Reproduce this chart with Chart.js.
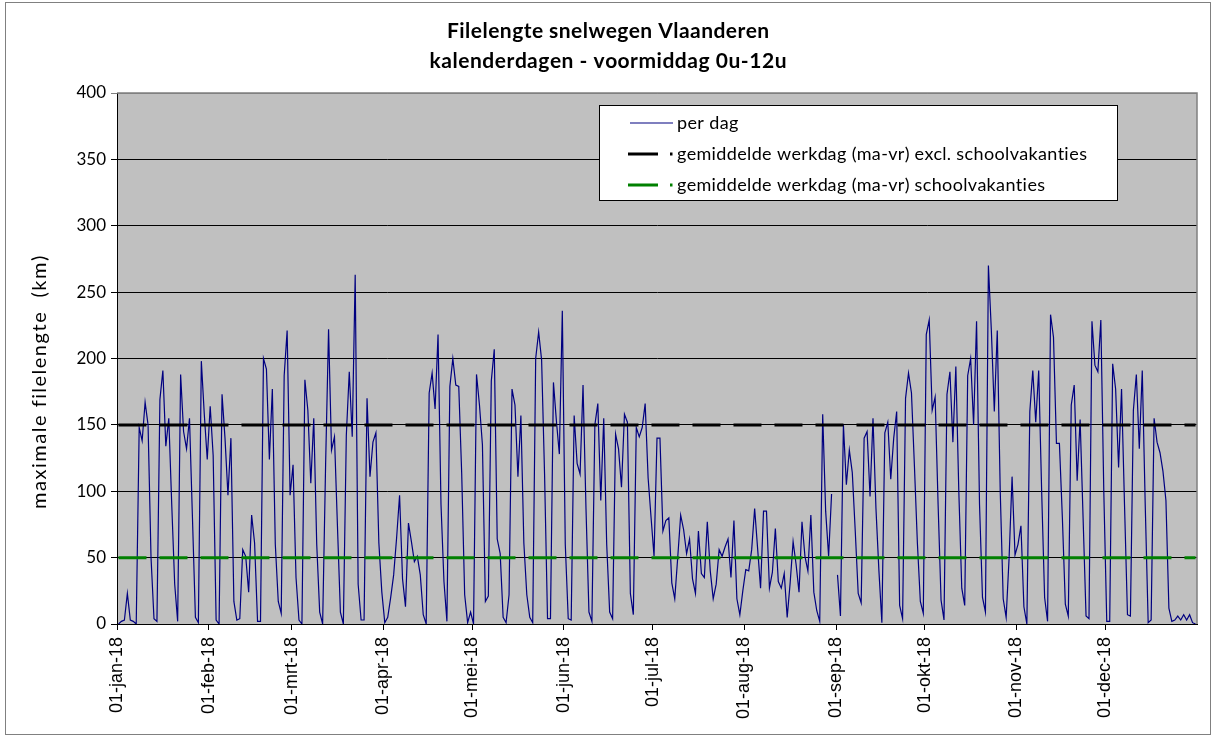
<!DOCTYPE html>
<html>
<head>
<meta charset="utf-8">
<script src="https://cdn.jsdelivr.net/npm/chart.js@4.4.1/dist/chart.umd.min.js"></script>
<style>
  html, body { margin: 0; padding: 0; background: #fff; }
  #wrap { width: 1217px; height: 737px; position: relative; }
</style>
</head>
<body>
<div id="wrap"><canvas id="fileChart"></canvas></div>
<script>
// ===== data: maximale filelengte (km) per kalenderdag 2018, 0u-12u =====
const jan = [0,2,3,23,3,2,0, 148,138,167,150,50,4,2, 169,191,134,155,90,30,2, 188,145,132,155,80,5,1, 198,158,124];
const feb = [164,127,3,0, 173,140,97,140,17,3,4, 56,51,24,82,61,2,2, 200,192,124,177,60,17,8, 187,221,97];
const mrt = [120,35,3,0, 184,161,106,155,60,9,0, 120,222,131,141,74,9,0, 142,190,141,263,30,3,3, 170,111,137,144,61,24];
const apr = [1, 5,20,37,65,97,34,13, 76,62,47,51,37,7,0, 174,189,162,218,90,32,2, 179,200,180,179,113,22,1, 9];
const mei = [0,188,165,135,17,21, 183,207,64,53,5,1,22, 177,165,111,157,61,22,5, 1,200,220,199,113,4,4, 182,153,128,236];
const jun = [60,4,3, 157,121,113,180,87,9,2, 150,166,93,155,60,9,4, 143,132,103,158,152,23,7, 148,141,148,166,110,80];
const jul = [51, 140,140,70,78,80,31,19, 50,82,71,53,64,34,23, 70,38,35,77,40,19,30, 56,51,58,64,35,78,19, 7,25];
const aug = [41,40,56,87,57, 27,85,85,27,39,72,32, 27,38,5,31,62,45,24, 77,51,40,82,24,10,2, 158,85,51,98,null];
const sep = [37,6, 150,105,131,114,70,23,16, 140,145,96,155,87,40,1, 144,152,109,140,160,14,4, 170,189,174,119,61,17,8];
const okt = [218,229,161,171,90,18,3, 173,190,137,194,100,27,14, 187,200,150,228,90,20,9, 270,221,160,221,100,19,5, 50,111,52];
const nov = [60,74,13,0, 160,191,152,191,100,20,2, 233,216,136,136,80,15,6, 165,180,108,154,80,6,4, 228,195,190,229,100];
const dec = [2,2, 196,177,118,177,90,7,6, 161,188,132,191,90,1,3, 155,137,129,115,93,12,2, 3,6,3,7,3,7,1,0];

const gemWerkdag = 150;      // gemiddelde werkdag excl. schoolvakanties
const gemVakantie = 50;      // gemiddelde werkdag schoolvakanties

const maandStart = [0, 31, 59, 90, 120, 151, 181, 212, 243, 273, 304, 334];
const maandLabels = ["01-jan-18", "01-feb-18", "01-mrt-18", "01-apr-18", "01-mei-18", "01-jun-18",
                     "01-jul-18", "01-aug-18", "01-sep-18", "01-okt-18", "01-nov-18", "01-dec-18"];
const yTicks = [0, 50, 100, 150, 200, 250, 300, 350, 400];

const titel = ["Filelengte snelwegen Vlaanderen", "kalenderdagen - voormiddag 0u-12u"];
const yTitel = "maximale filelengte  (km)";

const perDag = [...jan, ...feb, ...mrt, ...apr, ...mei, ...jun, ...jul, ...aug, ...sep, ...okt, ...nov, ...dec];
const puntenDag = perDag.map((v, i) => ({ x: i, y: v }));
const puntenWerkdag = perDag.map((v, i) => ({ x: i, y: gemWerkdag }));
const puntenVakantie = perDag.map((v, i) => ({ x: i, y: gemVakantie }));

const FONT = "Lato, 'Open Sans', sans-serif";

// tekst met extra letterafstand zodat hij een gegeven breedte krijgt (links uitgelijnd)
function spatieVoor(ctx, tekst, breedte) {
  return (breedte - ctx.measureText(tekst).width) / Math.max(1, tekst.length - 1);
}
function tekenGespreid(ctx, tekst, x, y, spatie) {
  for (let i = 0; i < tekst.length; i++) {
    const dx = ctx.measureText(tekst.slice(0, i)).width + i * spatie;
    ctx.fillText(tekst[i], x + dx, y);
  }
}

// achtergrond plotvlak + kader rond grafiek
const achtergrond = {
  id: "achtergrond",
  beforeDraw(chart) {
    const { ctx, chartArea: a } = chart;
    ctx.save();
    ctx.fillStyle = "#fff";
    ctx.fillRect(0, 0, chart.width, chart.height);
    ctx.strokeStyle = "#808080";
    ctx.lineWidth = 1;
    ctx.strokeRect(5.5, 2.5, 1205, 732);
    ctx.fillStyle = "#c0c0c0";
    ctx.fillRect(a.left, a.top, a.right - a.left, a.bottom - a.top);
    ctx.restore();
  },
  afterDatasetsDraw(chart) {
    const { ctx, chartArea: a } = chart;
    ctx.save();
    ctx.strokeStyle = "#808080";
    ctx.lineWidth = 1.5;
    ctx.beginPath();
    ctx.moveTo(a.left, a.top);
    ctx.lineTo(a.right, a.top);
    ctx.lineTo(a.right, a.bottom);
    ctx.stroke();
    ctx.restore();
  }
};

// titel en astitel
const teksten = {
  id: "teksten",
  afterDraw(chart) {
    const ctx = chart.ctx;
    ctx.save();
    ctx.fillStyle = "#000";
    ctx.textBaseline = "middle";
    ctx.font = "bold 21px " + FONT;
    const breedtes = [322, 357];
    titel.forEach((t, i) => {
      const sp = spatieVoor(ctx, t, breedtes[i]);
      tekenGespreid(ctx, t, 608 - breedtes[i] / 2, 31 + i * 30, sp);
    });
    ctx.translate(40, 383);
    ctx.rotate(-Math.PI / 2);
    ctx.font = "20px " + FONT;
    tekenGespreid(ctx, yTitel, -126, 0, spatieVoor(ctx, yTitel, 253));
    ctx.restore();
  }
};

// legende binnen het plotvlak
const legende = {
  id: "legende",
  afterDraw(chart) {
    const ctx = chart.ctx;
    ctx.save();
    ctx.fillStyle = "#fff";
    ctx.fillRect(599, 105, 518, 95);
    ctx.strokeStyle = "#000";
    ctx.lineWidth = 1;
    ctx.strokeRect(599.5, 105.5, 518, 95);
    ctx.font = "18px " + FONT;
    const sp = spatieVoor(ctx, chart.data.datasets[1].label, 410);
    const rijen = [
      { y: 123, kleur: "#000080", dik: 1.2 },
      { y: 154, kleur: "#000000", dik: 3 },
      { y: 185, kleur: "#008000", dik: 3 }
    ];
    rijen.forEach((r, i) => {
      ctx.strokeStyle = r.kleur;
      ctx.lineWidth = r.dik;
      ctx.beginPath();
      if (i === 0) {
        ctx.moveTo(630, r.y); ctx.lineTo(673, r.y);
      } else {
        ctx.moveTo(628, r.y); ctx.lineTo(658, r.y);
        ctx.moveTo(670, r.y); ctx.lineTo(672.5, r.y);
      }
      ctx.stroke();
      ctx.fillStyle = "#000";
      ctx.textBaseline = "middle";
      tekenGespreid(ctx, chart.data.datasets[i].label, 677, r.y, sp);
    });
    ctx.restore();
  }
};

new Chart(document.getElementById("fileChart"), {
  type: "line",
  data: {
    datasets: [
      { label: "per dag", data: puntenDag, borderColor: "#000080", borderWidth: 1.2,
        pointRadius: 0, tension: 0, spanGaps: false, order: 2 },
      { label: "gemiddelde werkdag (ma-vr) excl. schoolvakanties", data: puntenWerkdag,
        borderColor: "#000000", borderWidth: 3, borderDash: [28, 13], pointRadius: 0, order: 1 },
      { label: "gemiddelde werkdag (ma-vr) schoolvakanties", data: puntenVakantie,
        borderColor: "#008000", borderWidth: 3, borderDash: [28, 13], pointRadius: 0, order: 1 }
    ]
  },
  options: {
    responsive: true,
    maintainAspectRatio: false,
    animation: false,
    layout: { padding: { left: 0, right: 20, top: 93, bottom: 0 } },
    plugins: {
      legend: { display: false },
      tooltip: { enabled: false },
      title: { display: false }
    },
    scales: {
      x: {
        type: "linear",
        min: -0.5,
        max: 364.5,
        afterBuildTicks: s => { s.ticks = maandStart.map(d => ({ value: d - 0.5 })); },
        afterFit: s => { s.height = 737 - 624; },
        ticks: {
          autoSkip: false,
          minRotation: 90,
          maxRotation: 90,
          padding: 7,
          color: "#000",
          font: { family: "'Liberation Sans', Arial, sans-serif", size: 18 },
          callback: v => {
            const i = maandStart.indexOf(Math.round(v + 0.5));
            return i >= 0 ? maandLabels[i] : "";
          }
        },
        grid: { drawOnChartArea: false, color: "#000", tickLength: 6 },
        border: { color: "#000", width: 1 }
      },
      y: {
        min: 0,
        max: 400,
        afterBuildTicks: s => { s.ticks = yTicks.map(v => ({ value: v })); },
        afterFit: s => { s.width = 117; },
        ticks: { color: "#000", padding: 5, font: { family: FONT, size: 17 } },
        grid: { color: c => (c.tick && c.tick.value === 400 ? "#808080" : "#000"), tickLength: 6 },
        border: { color: "#000", width: 1 }
      }
    }
  },
  plugins: [achtergrond, teksten, legende]
});
</script>
</body>
</html>
